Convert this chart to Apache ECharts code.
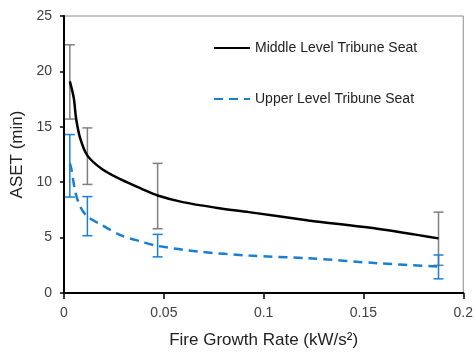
<!DOCTYPE html>
<html><head><meta charset="utf-8">
<script src="https://cdn.jsdelivr.net/npm/echarts@6/dist/echarts.min.js"></script>
<style>html,body{margin:0;padding:0;background:#fff}#c{width:476px;height:354px}</style>
</head><body><div id="c"></div>
<script>
// Error-bar points (standard t-squared growth rates)
const growthRates = [0.00293, 0.01172, 0.0469, 0.1876];
const middleLow = [15.7, 9.8, 5.8, 2.5];
const middleHigh = [22.4, 14.9, 11.7, 7.3];
const upperLow = [8.66, 5.17, 3.26, 1.28];
const upperHigh = [14.3, 8.7, 5.29, 3.43];
// Curve points
const middleCurveX = [0.00293, 0.0049, 0.0061, 0.0082, 0.01172, 0.019, 0.029, 0.0389, 0.0469, 0.0595, 0.076, 0.0926, 0.1225, 0.157, 0.1876];
const middleCurveY = [19.1, 17.6, 15.7, 13.9, 12.4, 11.2, 10.2, 9.4, 8.8, 8.2, 7.7, 7.3, 6.55, 5.8, 4.93];
const upperCurveX = [0.00293, 0.0037, 0.0057, 0.0082, 0.01172, 0.019, 0.029, 0.0389, 0.0469, 0.0678, 0.0926, 0.1225, 0.157, 0.1876];
const upperCurveY = [11.7, 11.2, 9.1, 7.77, 6.9, 6.12, 5.17, 4.63, 4.25, 3.73, 3.38, 3.14, 2.69, 2.39];
const xTicks = [0, 0.05, 0.1, 0.15, 0.2];
const yTicks = [0, 5, 10, 15, 20, 25];

const FONT = 'Liberation Sans';
const BLUE = '#1a7fd1';
const GREY = '#7f7f7f';

function errBars(low, high, color) {
  return {
    type: 'custom',
    silent: true,
    z: 1,
    data: growthRates.map((x, i) => [x, low[i], high[i]]),
    renderItem: function (params, api) {
      const lo = api.coord([api.value(0), api.value(1)]);
      const hi = api.coord([api.value(0), api.value(2)]);
      const w = 5;
      const st = { stroke: color, lineWidth: 1.5 };
      return {
        type: 'group',
        children: [
          { type: 'line', shape: { x1: lo[0], y1: lo[1], x2: hi[0], y2: hi[1] }, style: st },
          { type: 'line', shape: { x1: lo[0] - w, y1: lo[1], x2: lo[0] + w, y2: lo[1] }, style: st },
          { type: 'line', shape: { x1: hi[0] - w, y1: hi[1], x2: hi[0] + w, y2: hi[1] }, style: st }
        ]
      };
    }
  };
}

const chart = echarts.init(document.getElementById('c'), null, { renderer: 'canvas' });
chart.setOption({
  animation: false,
  textStyle: { fontFamily: FONT },
  grid: { left: 64, right: 11, top: 16, bottom: 59, show: true, borderColor: '#8c8c8c', borderWidth: 1 },
  legend: {
    orient: 'vertical',
    left: 208, top: 36,
    itemWidth: 36, itemHeight: 14, itemGap: 37,
    itemStyle: { opacity: 0 },
    textStyle: { fontFamily: FONT, fontSize: 14, color: '#222' },
    data: ['Middle Level Tribune Seat', 'Upper Level Tribune Seat']
  },
  xAxis: {
    type: 'value', min: 0, max: 0.2, interval: 0.05,
    name: 'Fire Growth Rate (kW/s²)', nameLocation: 'middle', nameGap: 39,
    nameTextStyle: { fontFamily: FONT, fontSize: 17, color: '#222' },
    axisLine: { lineStyle: { color: '#000', width: 2 } },
    axisTick: { show: true, length: 6, lineStyle: { color: '#000', width: 1.5 } },
    axisLabel: { fontSize: 14, color: '#404040', margin: 13, formatter: v => (xTicks.includes(+v.toFixed(2)) ? String(+v.toFixed(2)) : '') },
    splitLine: { show: false }
  },
  yAxis: {
    type: 'value', min: 0, max: 25, interval: 5,
    name: 'ASET (min)', nameLocation: 'middle', nameGap: 38,
    nameTextStyle: { fontFamily: FONT, fontSize: 17, color: '#222' },
    axisLine: { show: true, lineStyle: { color: '#000', width: 2 } },
    axisTick: { show: true, length: 4, lineStyle: { color: '#000', width: 1.5 } },
    axisLabel: { fontSize: 14, color: '#404040', margin: 12, formatter: v => (yTicks.includes(v) ? String(v) : '') },
    splitLine: { show: false }
  },
  series: [
    errBars(middleLow, middleHigh, GREY),
    errBars(upperLow, upperHigh, BLUE),
    {
      name: 'Middle Level Tribune Seat', type: 'line', z: 3,
      data: middleCurveX.map((x, i) => [x, middleCurveY[i]]),
      smooth: 0.3, symbol: 'none', showSymbol: false,
      lineStyle: { color: '#000', width: 2.5 }, itemStyle: { color: '#000' }
    },
    {
      name: 'Upper Level Tribune Seat', type: 'line', z: 3,
      data: upperCurveX.map((x, i) => [x, upperCurveY[i]]),
      smooth: 0.3, symbol: 'none', showSymbol: false,
      lineStyle: { color: BLUE, width: 2.5, type: [9, 6] }, itemStyle: { color: BLUE }
    }
  ]
});
</script></body></html>
